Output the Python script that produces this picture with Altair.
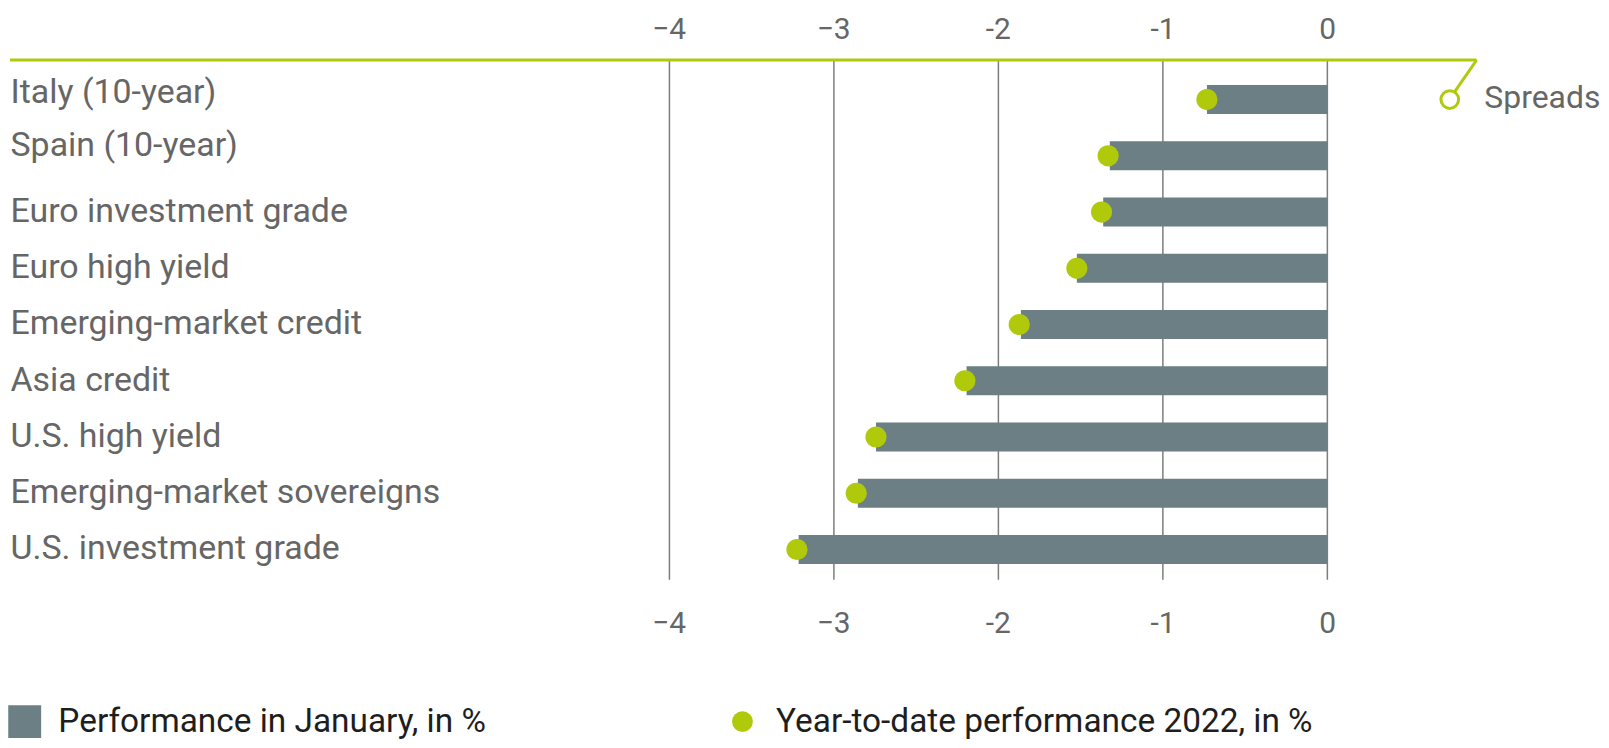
import altair as alt
import pandas as pd

# ---------------- data ----------------
categories = [
    "Italy (10-year)",
    "Spain (10-year)",
    "Euro investment grade",
    "Euro high yield",
    "Emerging-market credit",
    "Asia credit",
    "U.S. high yield",
    "Emerging-market sovereigns",
    "U.S. investment grade",
]
jan_perf = [-0.73, -1.32, -1.36, -1.52, -1.86, -2.19, -2.74, -2.85, -3.21]
ytd_perf = [-0.73, -1.33, -1.37, -1.52, -1.87, -2.20, -2.74, -2.86, -3.22]
series_names = ["Performance in January, in %", "Year-to-date performance 2022, in %"]
tick_values = [-4, -3, -2, -1, 0]
annotation_text = "Spreads"

# ---------------- style ----------------
BAR = "#6b7f84"
GREEN = "#b0c90b"
AXIS_TEXT = "#666666"
LEGEND_TEXT = "#1e1e1e"
GRID = "#7d7d7d"
FONT = "Roboto"

df = pd.DataFrame({
    "category": categories,
    "jan": jan_perf,
    "ytd": ytd_perf,
    "jan_series": [series_names[0]] * len(categories),
    "ytd_series": [series_names[1]] * len(categories),
})
one = pd.DataFrame({"k": [0]})

x_scale = alt.Scale(domain=[-8, 1.5], nice=False, zero=False)
y_scale = alt.Scale(domain=categories, paddingInner=0.486, paddingOuter=0.36, align=0.62)

label_expr = "datum.value <= -3 ? '\u2212' + toString(abs(datum.value)) : toString(datum.value)"
y_label_shift = (
    f"datum.value == '{categories[0]}' ? -7 : datum.value == '{categories[1]}' ? -10 : 0"
)

y_enc = alt.Y(
    "category:N", scale=y_scale, sort=categories, title=None,
    axis=alt.Axis(orient="left", labelAlign="left", labelPadding=0, ticks=False, tickSize=0,
                  domain=False, labelFontSize=34, labelColor=AXIS_TEXT, labelFont=FONT,
                  labelLimit=700, labelOffset=alt.ExprRef(expr=y_label_shift)),
)

bars = alt.Chart(df).mark_bar().encode(
    x=alt.X("jan:Q", scale=x_scale, title=None,
            axis=alt.Axis(orient="bottom", values=tick_values, grid=True, gridColor=GRID,
                          gridWidth=1.5, ticks=False, domain=False, labelExpr=label_expr,
                          labelFontSize=30, labelColor=AXIS_TEXT, labelFont=FONT,
                          labelPadding=29)),
    x2=alt.datum(0),
    y=y_enc,
    color=alt.Color("jan_series:N", scale=alt.Scale(range=[BAR]),
                    legend=alt.Legend(title=None, orient="none", legendX=-2, legendY=647,
                                      symbolType="square", symbolSize=1089,
                                      symbolStrokeWidth=0, labelFontSize=33.5,
                                      labelColor=LEGEND_TEXT, labelFont=FONT,
                                      labelOffset=17, padding=0, labelLimit=800)),
)

dots = alt.Chart(df).mark_circle(size=452, opacity=1).encode(
    x=alt.X("ytd:Q", scale=x_scale, title=None,
            axis=alt.Axis(orient="top", values=tick_values, grid=False, ticks=False,
                          domain=False, labelExpr=label_expr, labelFontSize=30,
                          labelColor=AXIS_TEXT, labelFont=FONT, labelPadding=15.5)),
    y=alt.Y("category:N", scale=y_scale, sort=categories),
    fill=alt.Fill("ytd_series:N", scale=alt.Scale(range=[GREEN]),
                  legend=alt.Legend(title=None, orient="none", legendX=718, legendY=647,
                                    symbolType="circle", symbolSize=434,
                                    symbolStrokeWidth=0, labelFontSize=33.5,
                                    labelColor=LEGEND_TEXT, labelFont=FONT,
                                    labelOffset=17, padding=0, labelLimit=800)),
)

top_line = alt.Chart(one).mark_rule(color=GREEN, strokeWidth=3).encode(
    x=alt.X(datum=-8, type="quantitative", scale=x_scale, axis=None),
    x2=alt.datum(0.908),
    y=alt.value(0),
)

diag = alt.Chart(one).mark_rule(color=GREEN, strokeWidth=3).encode(
    x=alt.X(datum=0.908, type="quantitative", scale=x_scale, axis=None),
    x2=alt.datum(0.745),
    y=alt.value(0),
    y2=alt.value(39),
)

ring = alt.Chart(one).mark_point(shape="circle", size=314, filled=True, fill="white",
                                 stroke=GREEN, strokeWidth=3, opacity=1).encode(
    x=alt.X(datum=0.745, type="quantitative", scale=x_scale, axis=None),
    y=alt.Y(datum=categories[0], type="nominal", scale=y_scale),
)

label = alt.Chart(one).mark_text(text=annotation_text, align="left", baseline="middle",
                                 fontSize=32, color=AXIS_TEXT, font=FONT, dy=-2).encode(
    x=alt.X(datum=0.955, type="quantitative", scale=x_scale, axis=None),
    y=alt.Y(datum=categories[0], type="nominal", scale=y_scale),
)

chart = (
    alt.layer(bars, dots, top_line, diag, ring, label)
    .resolve_axis(x="independent")
    .properties(width=1569, height=521,
                padding={"top": 5, "left": 0, "right": 0, "bottom": 0},
                background="white")
    .configure_view(stroke=None)
)

chart.save("out.html", embed_options={"renderer": "svg", "actions": False})
